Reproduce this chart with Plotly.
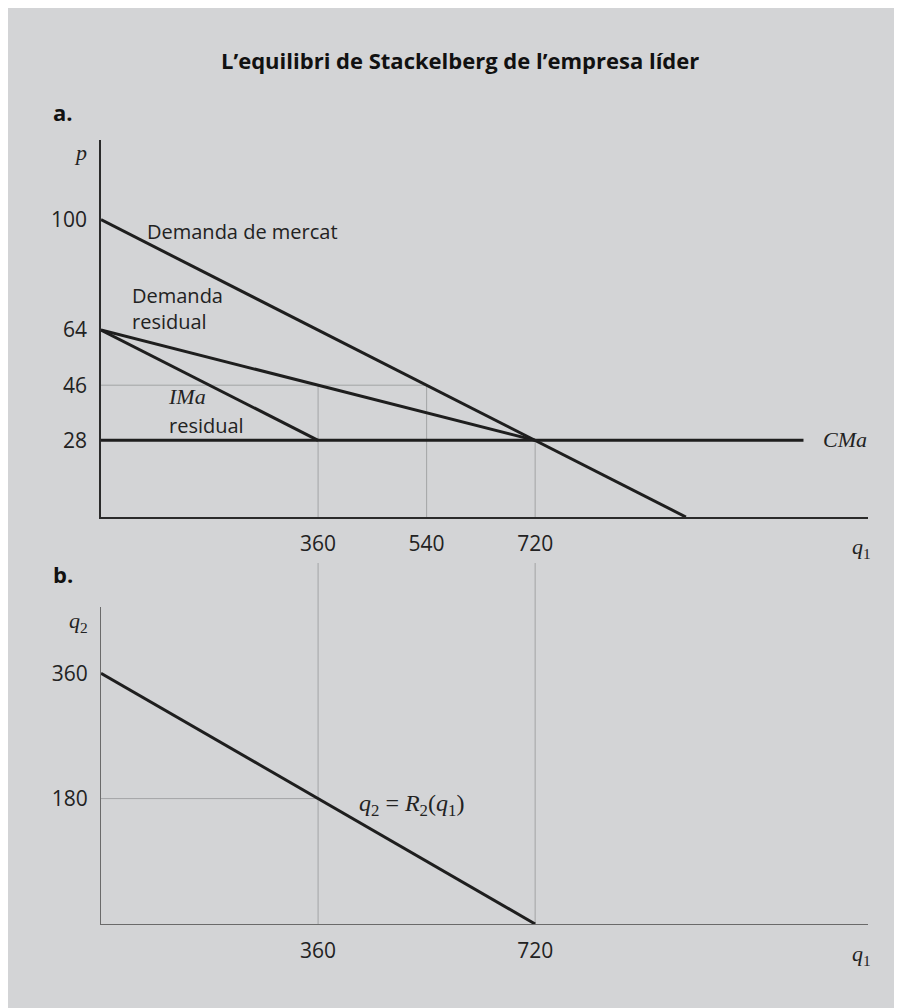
import plotly.graph_objects as go

# page offset (browser body margin) is 8px
OFF = 8
W, H = 902 - OFF, 1008 - OFF

# ---------------- data ----------------
# Panel a: prices vs leader quantity q1
q_demand = [0, 970]
p_demand = [100, 3]
q_resid = [0, 720]
p_resid = [64, 28]
q_ima = [0, 360]
p_ima = [64, 28]
q_cma = [0, 1165]
p_cma = [28, 28]
# guide lines panel a
q_guide_h = [0, 540]
p_guide_h = [46, 46]
guide_v_q = [360, 540, 720]
guide_v_ptop = [46, 46, 28]
top_xticks = [360, 540, 720]
top_yticks = [28, 46, 64, 100]

# Panel b: reaction function of follower
q1_r2 = [0, 720]
q2_r2 = [360, 0]
q1_guide_h = [0, 360]
q2_guide_h = [180, 180]
bottom_guide_v = [360, 720]
bottom_xticks = [360, 720]
bottom_yticks = [180, 360]

# ---------------- styling ----------------
BG = "#d3d4d6"
INK = "#1e1e1e"
GUIDE = "#a3a4a6"
SANS = "Open Sans"
SERIF = "Liberation Serif"


def px(x):
    return (x - OFF) / W


def py(y):
    return 1 - (y - OFF) / H


fig = go.Figure()

thick = dict(color=INK, width=3)
thin = dict(color=GUIDE, width=1)

# guides panel a
fig.add_trace(go.Scatter(x=q_guide_h, y=p_guide_h, mode="lines", line=thin,
                         xaxis="x", yaxis="y", hoverinfo="skip"))
for q, ptop in zip(guide_v_q, guide_v_ptop):
    fig.add_trace(go.Scatter(x=[q, q], y=[ptop, 0], mode="lines", line=thin,
                             xaxis="x", yaxis="y", hoverinfo="skip"))

# curves panel a
fig.add_trace(go.Scatter(x=q_demand, y=p_demand, mode="lines", line=thick, xaxis="x", yaxis="y"))
fig.add_trace(go.Scatter(x=q_resid, y=p_resid, mode="lines", line=thick, xaxis="x", yaxis="y"))
fig.add_trace(go.Scatter(x=q_ima, y=p_ima, mode="lines", line=thick, xaxis="x", yaxis="y"))
fig.add_trace(go.Scatter(x=q_cma, y=p_cma, mode="lines", line=thick, xaxis="x", yaxis="y"))

# panel b
fig.add_trace(go.Scatter(x=q1_guide_h, y=q2_guide_h, mode="lines", line=thin,
                         xaxis="x2", yaxis="y2", hoverinfo="skip"))
fig.add_trace(go.Scatter(x=q1_r2, y=q2_r2, mode="lines", line=thick, xaxis="x2", yaxis="y2"))

shapes = []
for q in bottom_guide_v:
    shapes.append(dict(type="line", xref="x2", yref="paper", x0=q, x1=q,
                       y0=py(924), y1=py(563), line=thin, layer="below"))

xdom = [px(101), px(868)]
tickfont = dict(family=SANS, size=21, color="#222")

axis_common = dict(showgrid=False, zeroline=False, showline=True, ticks="outside",
                   ticklen=0, tickfont=tickfont, fixedrange=True)

fig.update_layout(
    width=W, height=H,
    margin=dict(l=0, r=0, t=0, b=0),
    paper_bgcolor=BG,
    plot_bgcolor="rgba(0,0,0,0)",
    showlegend=False,
    shapes=shapes,
    xaxis=dict(domain=xdom, range=[0, 1272], anchor="y", tickvals=top_xticks,
               linecolor="#2a2a2a", linewidth=1.5, ticklabelstandoff=7, **axis_common),
    yaxis=dict(domain=[py(517), py(140)], range=[3, 126], anchor="x", tickvals=top_yticks,
               linecolor="#2a2a2a", linewidth=1.5, ticklabelstandoff=8, **axis_common),
    xaxis2=dict(domain=xdom, range=[0, 1272], anchor="y2", tickvals=bottom_xticks,
                linecolor="#6a6a6a", linewidth=1.2, ticklabelstandoff=8, **axis_common),
    yaxis2=dict(domain=[py(924), py(607)], range=[0, 455], anchor="x2", tickvals=bottom_yticks,
                linecolor="#6a6a6a", linewidth=1.2, ticklabelstandoff=8, **axis_common),
)

txt = dict(family=SANS, size=20, color="#222")
ital = dict(family=SERIF, size=22, color="#222")


def ann(text, x, y, font, xanchor="left", yanchor="middle"):
    fig.add_annotation(text=text, x=px(x), y=py(y), xref="paper", yref="paper",
                       xanchor=xanchor, yanchor=yanchor, showarrow=False, font=font,
                       align="left")


ann("<b>L’equilibri de Stackelberg de l’empresa líder</b>", 460, 60,
    dict(family=SANS, size=22, color="#111"), xanchor="center")
ann("<b>a.</b>", 51, 112, dict(family=SANS, size=22, color="#111"))
ann("<b>b.</b>", 51, 574, dict(family=SANS, size=22, color="#111"))

ann("<i>p</i>", 80, 152, ital, xanchor="center")
ann("<i>q</i><sub>1</sub>", 850, 548, ital)
ann("<i>q</i><sub>2</sub>", 67, 622, ital)
ann("<i>q</i><sub>1</sub>", 850, 955, ital)

ann("Demanda de mercat", 145, 232, txt)
ann("Demanda<br>residual", 130, 308, txt)
ann("<i>IMa</i>", 166, 396, ital)
ann("residual", 167, 425, txt)
ann("<i>CMa</i>", 821, 440, ital)
ann("<i>q</i><sub>2</sub> = <i>R</i><sub>2</sub>(<i>q</i><sub>1</sub>)", 357, 805,
    dict(family=SERIF, size=24, color="#222"))

fig.write_html("out.html")
